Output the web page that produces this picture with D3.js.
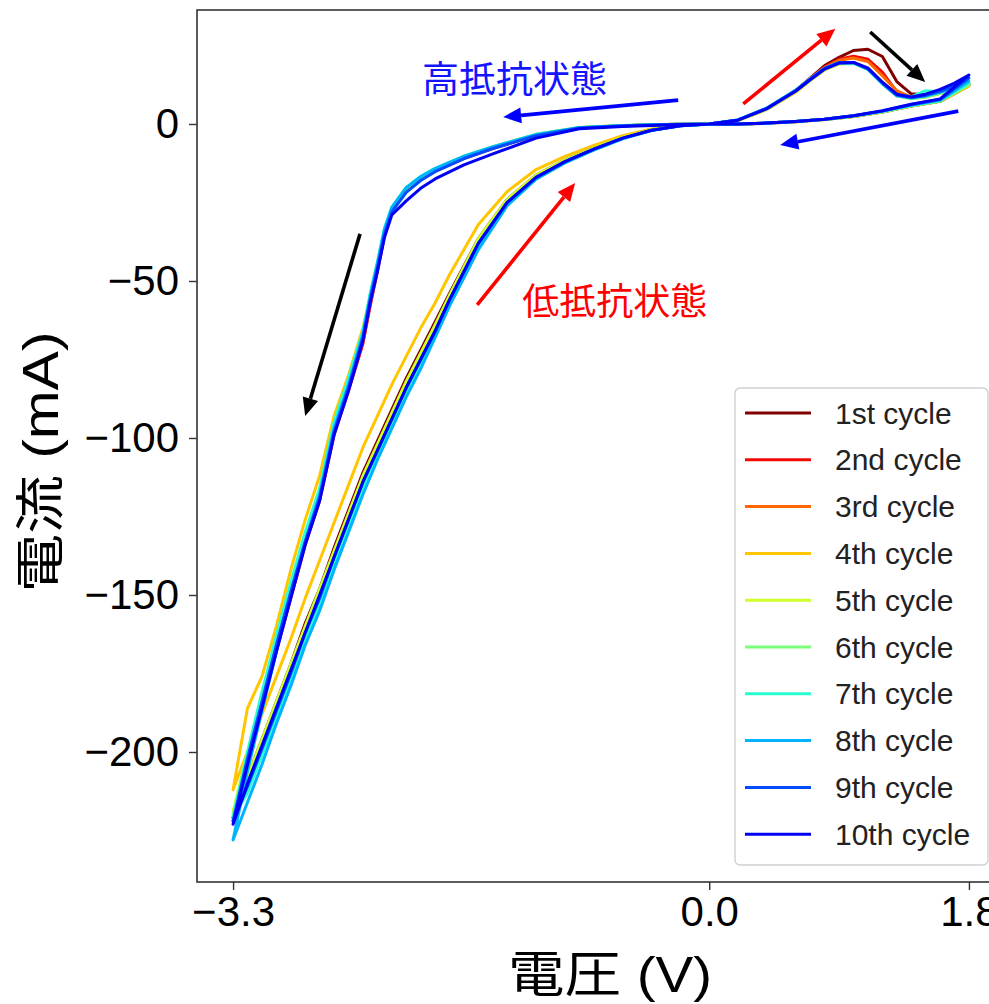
<!doctype html>
<html lang="ja">
  <head>
    <meta charset="UTF-8" />
    <title>電流-電圧 サイクル特性</title>
    <script src="https://d3js.org/d3.v7.min.js"></script>
    <style>
      body {
        margin: 0;
        padding: 0;
        background: #ffffff;
      }
      svg {
        display: block;
        font-family: 'Liberation Sans', Arial, 'Noto Sans CJK JP', sans-serif;
      }
      .tick-label {
        font-size: 42px;
        fill: #000000;
      }
      .axis-label {
        font-family: 'Liberation Sans', Arial, 'Noto Sans CJK JP', sans-serif;
        font-size: 50px;
        fill: #000000;
      }
      .legend-text {
        font-size: 30px;
        fill: #222222;
      }
      .note {
        font-family: 'Noto Sans CJK JP', sans-serif;
        font-size: 37px;
      }
    </style>
  </head>
  <body>
    <div id="chart"></div>

    <script>
      // Voltage sweep: 0 -> 1.8 -> 0 -> -3.3 -> 0 (same for every cycle)
      const sweepForward = [0, 0.2, 0.4, 0.6, 0.7, 0.8, 0.9, 1.0, 1.1, 1.2, 1.3, 1.4, 1.5, 1.6, 1.7, 1.8]
      const sweepReverse = [1.6, 1.4, 1.2, 1.0, 0.8, 0.6, 0.4, 0.2, 0]
      const sweepHigh = [-0.3, -0.6, -0.9, -1.2, -1.5, -1.7, -1.9, -2.0, -2.1, -2.2, -2.25, -2.3, -2.35, -2.4, -2.5, -2.6, -2.7, -2.8, -2.9, -3.0, -3.1, -3.2, -3.3]
      const sweepLow = [-3.2, -3.1, -3.0, -2.9, -2.8, -2.7, -2.6, -2.5, -2.4, -2.3, -2.2, -2.1, -2.0, -1.9, -1.8, -1.6, -1.4, -1.2, -1.0, -0.8, -0.6, -0.4, -0.2, 0]
      const voltage = [...sweepForward, ...sweepReverse, ...sweepHigh, ...sweepLow]

      // Current (mA) per cycle, one value per sweep voltage
      const cycle1 = [
        0, 1.2, 4.8, 10.6, 14.6, 18.6, 21.2, 23.4, 23.8, 21.5, 13.5, 9.6, 9.2, 10.4, 11.2, 12.2,
        7.2, 5.7, 3.8, 2.4, 1.4, 0.7, 0.2, 0, 0,
        -0.2, -0.6, -1.2, -3.6, -7.6, -10.8, -14.8, -17.4, -21, -27.5, -35, -46, -57, -69, -84, -98, -119, -133, -150, -167, -185, -203, -221,
        -208, -196, -184, -172, -159, -148, -135, -123, -111, -101, -91, -81, -72, -63, -54, -36.5, -24, -16.3, -11.5, -7.6, -4.2, -1.8, -0.5, 0,
      ]
      const cycle2 = [
        0, 1.2, 4.9, 10.7, 14.5, 18.2, 20.6, 21.6, 20.6, 16.5, 10.2, 8.4, 9, 10.2, 11.5, 12.8,
        7.4, 5.8, 3.9, 2.5, 1.5, 0.8, 0.3, 0, 0,
        -0.2, -0.6, -1.3, -3.7, -7.8, -11, -15, -17.6, -21.2, -27.8, -35.5, -47, -58, -70, -85, -99, -120, -134, -151, -168, -186, -204, -222,
        -210, -198, -186, -173, -161, -150, -137, -125, -113, -103, -93, -83, -74, -65, -55.5, -37.5, -24.6, -16.7, -11.8, -7.9, -4.4, -1.9, -0.5, 0,
      ]
      const cycle3 = [
        0, 1.2, 4.8, 10.5, 14.3, 17.9, 20.3, 21, 19.9, 15.4, 10.6, 8.5, 8.9, 10.1, 11.4, 12.7,
        7.5, 5.9, 4, 2.5, 1.5, 0.8, 0.3, 0, 0,
        -0.2, -0.6, -1.2, -3.5, -7.6, -10.7, -14.7, -17.3, -20.8, -27.3, -34.5, -46, -57, -69, -84, -98, -119, -132, -149, -166, -184, -202, -221,
        -209, -197, -185, -173, -161, -149, -137, -125, -113, -103, -93, -83, -74, -65, -55.5, -37.5, -24.7, -16.7, -11.8, -7.9, -4.4, -1.9, -0.5, 0,
      ]
      const cycle4 = [
        0, 1.1, 4.6, 10.1, 13.8, 17.2, 19.1, 19.5, 17.9, 13.4, 9.4, 8.2, 8.6, 9.7, 10.9, 12.1,
        7.2, 5.7, 3.8, 2.4, 1.4, 0.7, 0.3, 0, 0,
        -0.2, -0.5, -1.1, -3.3, -7.2, -10.3, -14.2, -16.8, -20.3, -26.7, -34, -45, -55, -65, -80, -93, -112, -126, -142, -160, -176, -186, -212,
        -200, -188, -176, -164, -151, -139, -127, -115, -103, -93, -83, -74, -65, -57, -48, -32, -21.5, -14.5, -10.3, -6.8, -3.7, -1.6, -0.4, 0,
      ]
      const cycle5 = [
        0, 1.2, 4.8, 10.5, 14.1, 17.5, 19.3, 19.4, 17.5, 13, 9, 8.1, 8.8, 10, 11.4, 12.8,
        7.4, 5.9, 4, 2.5, 1.5, 0.8, 0.3, 0, 0,
        -0.2, -0.6, -1.2, -3.5, -7.5, -10.5, -14.5, -17, -20.5, -27, -34, -45, -55, -67, -83, -97, -118, -131, -147, -164, -182, -200, -219,
        -208, -196, -184, -172, -160, -148, -136, -124, -112, -102, -92, -82, -73, -64, -54.5, -36.5, -24, -16.3, -11.5, -7.7, -4.3, -1.9, -0.5, 0,
      ]
      const cycle6 = [
        0, 1.2, 4.8, 10.4, 14, 17.4, 19.2, 19.3, 17.4, 12.8, 9, 8, 8.6, 9.8, 11.2, 12.5,
        7.3, 5.8, 3.9, 2.5, 1.5, 0.8, 0.3, 0, 0,
        -0.2, -0.6, -1.2, -3.4, -7.4, -10.4, -14.4, -16.9, -20.4, -26.8, -33.5, -44.5, -54.5, -66.5, -82, -96, -117, -131, -147, -164, -182, -201, -220,
        -210, -198, -186, -174, -162, -150, -138, -126, -114, -104, -94, -84, -75, -66, -56, -38, -25, -17, -12, -8, -4.5, -2, -0.6, 0,
      ]
      const cycle7 = [
        0, 1.3, 5, 10.7, 14.3, 17.6, 19.4, 19.4, 17.5, 13, 9.2, 8.6, 10.6, 10.2, 11.5, 12.9,
        7.4, 5.9, 4, 2.5, 1.5, 0.8, 0.3, 0, 0,
        -0.2, -0.5, -1.1, -3.3, -7.2, -10.2, -14.1, -16.7, -20.2, -26.5, -33, -44, -54, -66, -81, -95, -116, -130, -146, -163, -181, -200, -221,
        -213, -201, -189, -177, -164, -153, -140, -128, -116, -106, -96, -86, -77, -67, -57, -39, -25.5, -17.3, -12.2, -8.2, -4.6, -2, -0.6, 0,
      ]
      const cycle8 = [
        0, 1.3, 5.1, 10.8, 14.4, 17.8, 19.6, 19.5, 17.4, 12.8, 9, 8.3, 8.9, 10.1, 11.6, 13.6,
        7.6, 6, 4.1, 2.6, 1.5, 0.8, 0.3, 0, 0,
        -0.2, -0.6, -1.2, -3.4, -7.3, -10.3, -14.2, -16.8, -20.3, -26.6, -33.5, -44.5, -55, -67, -83, -97, -118, -133, -150, -168, -187, -206, -228,
        -216, -204, -191, -179, -166, -155, -142, -130, -118, -107, -97, -87, -78, -68, -58, -40, -26, -17.6, -12.4, -8.3, -4.7, -2.1, -0.6, 0,
      ]
      const cycle9 = [
        0, 1.3, 5, 10.6, 14.2, 17.7, 19.5, 19.6, 17.6, 13.2, 9.2, 8.4, 9.1, 10.4, 12.1, 14.6,
        7.8, 6.2, 4.1, 2.6, 1.5, 0.8, 0.3, 0, 0,
        -0.2, -0.6, -1.3, -3.7, -7.8, -11, -15.2, -18, -21.8, -28, -35, -46, -56, -68, -84, -98, -119, -133, -149, -166, -184, -202, -222,
        -211, -199, -187, -175, -162, -151, -138, -126, -114, -104, -94, -84, -75, -66, -56, -38, -25, -17, -12, -8, -4.5, -2, -0.6, 0,
      ]
      const cycle10 = [
        0, 1.2, 4.9, 10.5, 14.1, 17.5, 19.4, 19.6, 17.8, 13.3, 9.5, 8.6, 9.5, 11, 13, 15.6,
        8, 6.3, 4.2, 2.6, 1.5, 0.8, 0.3, 0, 0,
        -0.3, -0.8, -1.5, -4.5, -9.5, -13, -17.5, -20.5, -24.5, -29, -36, -47, -57, -69, -85, -99, -120, -134, -151, -168, -186, -204, -223,
        -210, -198, -186, -174, -162, -150, -138, -126, -114, -104, -94, -84, -75, -66, -56, -38, -25, -17, -12, -8, -4.5, -2, -0.6, 0,
      ]
      const cycles = [cycle1, cycle2, cycle3, cycle4, cycle5, cycle6, cycle7, cycle8, cycle9, cycle10]

      const cycleLabels = ['1st cycle', '2nd cycle', '3rd cycle', '4th cycle', '5th cycle',
        '6th cycle', '7th cycle', '8th cycle', '9th cycle', '10th cycle']
      // jet colormap, reversed
      const cycleColors = ['#800000', '#f40900', '#ff6800', '#ffc600', '#ceff29',
        '#7bff7b', '#29ffce', '#00b3ff', '#004dff', '#0000f4']

      const xTicks = [-3.3, 0, 1.8]
      const yTicks = [0, -50, -100, -150, -200]

      const width = 989
      const height = 1004
      const plot = { left: 197, right: 1005, top: 10, bottom: 882 }

      const svg = d3
        .select('#chart')
        .append('svg')
        .attr('width', width)
        .attr('height', height)

      const x = d3.scaleLinear().domain([-3.55, 2.05]).range([plot.left, plot.right])
      const y = d3.scaleLinear().domain([-241.4, 36.3]).range([plot.bottom, plot.top])

      svg
        .append('clipPath')
        .attr('id', 'plot-clip')
        .append('rect')
        .attr('x', plot.left)
        .attr('y', plot.top)
        .attr('width', plot.right - plot.left)
        .attr('height', plot.bottom - plot.top)

      // curves, first cycle at the bottom
      const line = d3
        .line()
        .x((d, i) => x(voltage[i]))
        .y((d) => y(d))

      svg
        .append('g')
        .attr('clip-path', 'url(#plot-clip)')
        .selectAll('path')
        .data(cycles)
        .enter()
        .append('path')
        .attr('d', line)
        .attr('fill', 'none')
        .attr('stroke', (d, i) => cycleColors[i])
        .attr('stroke-width', 3)
        .attr('stroke-linejoin', 'round')

      // frame
      svg
        .append('rect')
        .attr('x', plot.left)
        .attr('y', plot.top)
        .attr('width', plot.right - plot.left)
        .attr('height', plot.bottom - plot.top)
        .attr('fill', 'none')
        .attr('stroke', '#333333')
        .attr('stroke-width', 1.6)

      // axes
      const xAxis = svg
        .append('g')
        .attr('transform', `translate(0, ${plot.bottom})`)
        .call(d3.axisBottom(x).tickValues(xTicks).tickFormat(d3.format('.1f')).tickSize(8).tickPadding(6))
      const yAxis = svg
        .append('g')
        .attr('transform', `translate(${plot.left}, 0)`)
        .call(d3.axisLeft(y).tickValues(yTicks).tickSize(8).tickPadding(10))

      ;[xAxis, yAxis].forEach((g) => {
        g.select('.domain').remove()
        g.selectAll('.tick line').attr('stroke', '#333333').attr('stroke-width', 1.4)
        g.selectAll('.tick text')
          .attr('class', 'tick-label')
          .attr('font-family', null)
          .attr('font-size', null)
      })

      svg
        .append('text')
        .attr('class', 'axis-label')
        .attr('x', 610)
        .attr('y', 992)
        .attr('text-anchor', 'middle')
        .attr('textLength', 204)
        .attr('lengthAdjust', 'spacingAndGlyphs')
        .text('電圧 (V)')

      svg
        .append('text')
        .attr('class', 'axis-label')
        .attr('transform', 'translate(58, 462) rotate(-90)')
        .attr('text-anchor', 'middle')
        .attr('textLength', 261)
        .attr('lengthAdjust', 'spacingAndGlyphs')
        .text('電流 (mA)')

      // annotations (data coordinates)
      const arrows = [
        { from: [0.236, 6.4], to: [0.874, 30.3], color: '#ff0000' },
        { from: [1.116, 29.3], to: [1.497, 13.4], color: '#000000' },
        { from: [1.726, 4.1], to: [0.492, -6.7], color: '#0000ff' },
        { from: [-0.215, 7.6], to: [-1.428, 2.2], color: '#0000ff' },
        { from: [-2.42, -35], to: [-2.8, -93], color: '#000000' },
        { from: [-1.608, -57.6], to: [-0.929, -18.8], color: '#ff0000' },
      ]

      const arrowG = svg.append('g')
      arrows.forEach((a) => {
        const x1 = x(a.from[0])
        const y1 = y(a.from[1])
        const x2 = x(a.to[0])
        const y2 = y(a.to[1])
        const ang = Math.atan2(y2 - y1, x2 - x1)
        const headLen = 18
        const headW = 8
        const bx = x2 - headLen * Math.cos(ang)
        const by = y2 - headLen * Math.sin(ang)
        arrowG
          .append('line')
          .attr('x1', x1)
          .attr('y1', y1)
          .attr('x2', bx)
          .attr('y2', by)
          .attr('stroke', a.color)
          .attr('stroke-width', 3.6)
        arrowG
          .append('polygon')
          .attr(
            'points',
            [
              [x2, y2],
              [bx + headW * Math.sin(ang), by - headW * Math.cos(ang)],
              [bx - headW * Math.sin(ang), by + headW * Math.cos(ang)],
            ].join(' ')
          )
          .attr('fill', a.color)
      })

      svg
        .append('text')
        .attr('class', 'note')
        .attr('x', x(-1.99))
        .attr('y', y(9.9))
        .attr('fill', '#1414ff')
        .text('高抵抗状態')

      svg
        .append('text')
        .attr('class', 'note')
        .attr('x', x(-1.296))
        .attr('y', y(-60.8))
        .attr('fill', '#ff0000')
        .text('低抵抗状態')

      // legend
      const legend = svg.append('g').attr('transform', 'translate(735, 388)')
      legend
        .append('rect')
        .attr('width', 253)
        .attr('height', 477)
        .attr('rx', 5)
        .attr('fill', '#ffffff')
        .attr('stroke', '#d0d0d0')
        .attr('stroke-width', 1.4)

      const items = legend
        .selectAll('.item')
        .data(cycleLabels)
        .enter()
        .append('g')
        .attr('transform', (d, i) => `translate(0, ${25 + i * 46.8})`)

      items
        .append('line')
        .attr('x1', 10)
        .attr('x2', 76)
        .attr('stroke', (d, i) => cycleColors[i])
        .attr('stroke-width', 3)

      items
        .append('text')
        .attr('class', 'legend-text')
        .attr('x', 100)
        .attr('dy', '0.35em')
        .text((d) => d)
    </script>
  </body>
</html>
